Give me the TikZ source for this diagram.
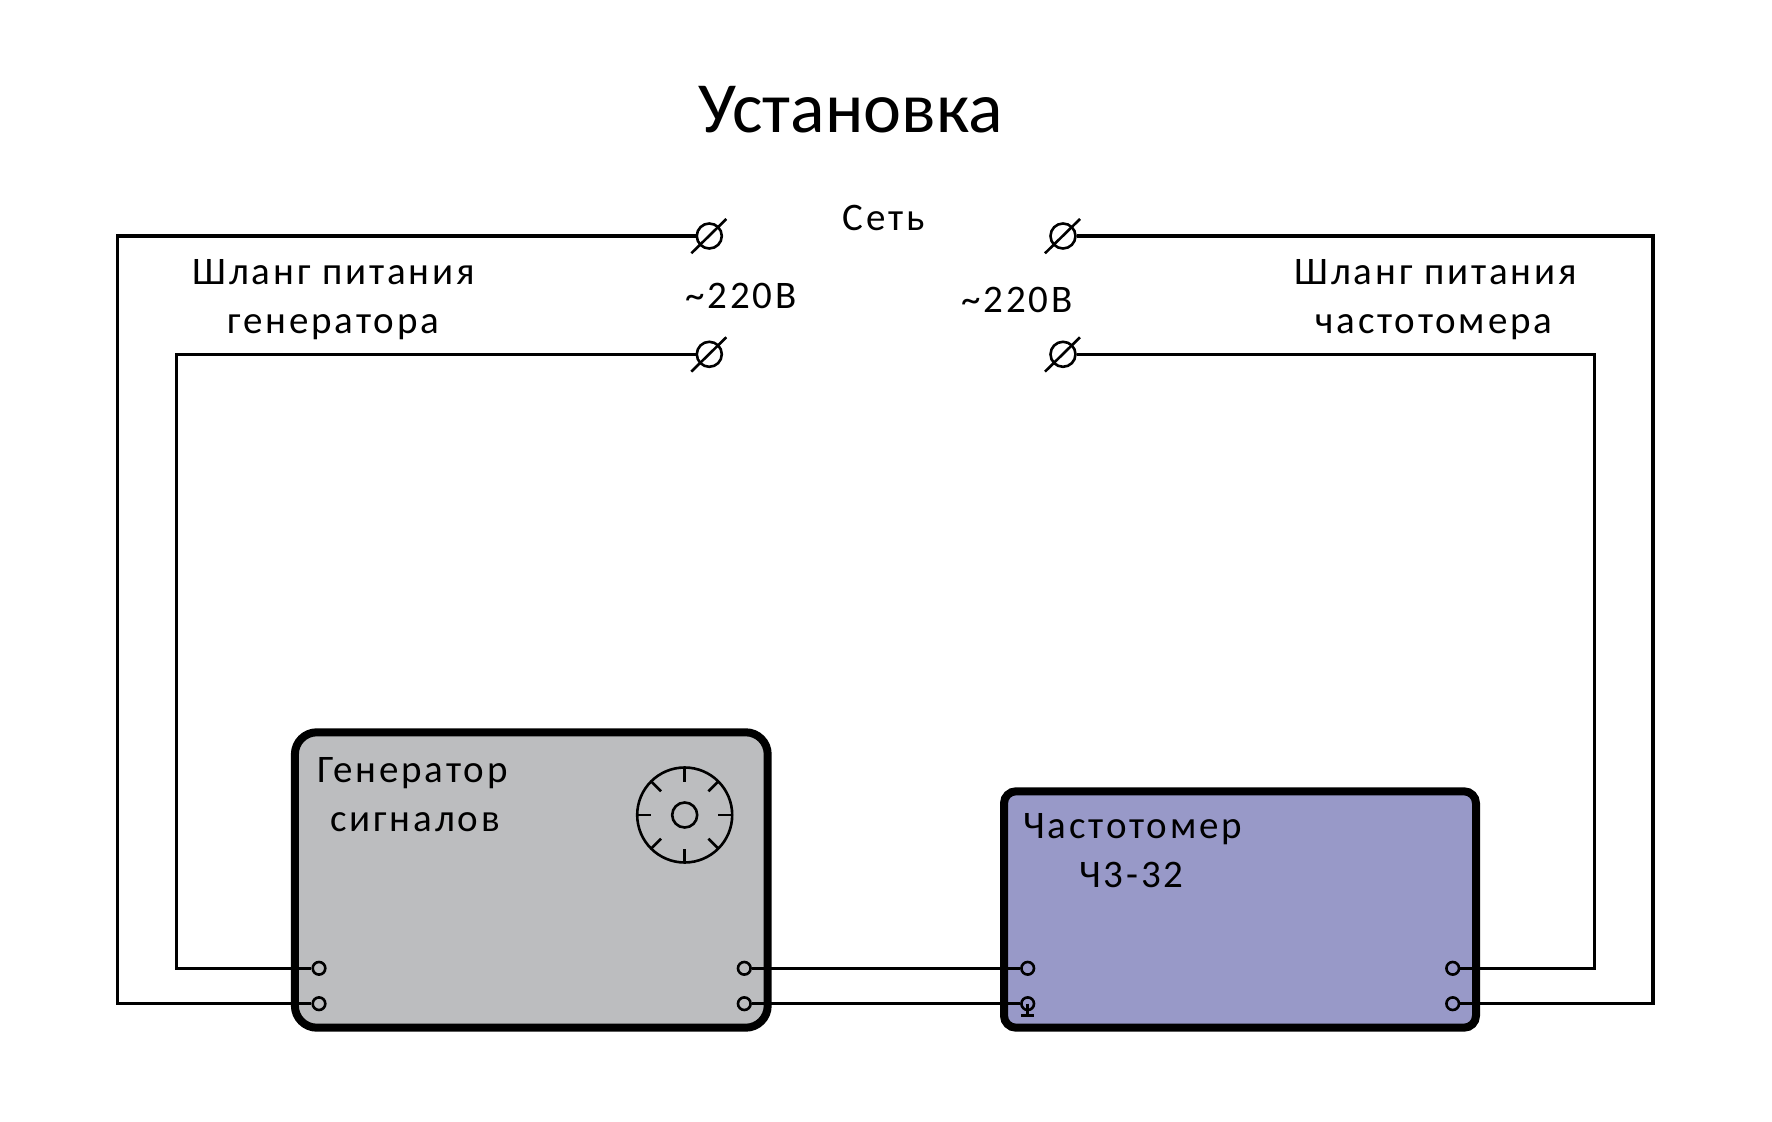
\documentclass[tikz,border=0pt]{standalone}
\usepackage{fontspec}
\setmainfont{Carlito}
\newfontfamily\labfont[LetterSpace=7.3]{Carlito}
\newfontfamily\titlefont{Carlito}
\definecolor{gencolor}{HTML}{BCBDBF}
\definecolor{freqcolor}{HTML}{9899C8}
\tikzset{
    wire/.style={line width=1.6pt},
    devbox/.style={draw, line width=4pt, rectangle},
    port/.style={circle, draw, line width=1.3pt, inner sep=0pt, minimum size=6.3pt},
    netport/.style={circle, draw, line width=1.3pt, inner sep=0pt, minimum size=12.5pt},
    lab/.style={anchor=base west, inner sep=0pt, font=\labfont\fontsize{19.5}{20}\selectfont}
}
\begin{document}
\begin{tikzpicture}[x=0.5pt, y=-0.5pt]
    \useasboundingbox (0, 0) rectangle (1772, 1122);

    \node (gen) at (531.3, 880) [devbox, rounded corners=11pt, fill=gencolor, minimum width=236.4pt, minimum height=147.7pt] {};
    \node (freq) at (1240, 909.5) [devbox, rounded corners=6pt, fill=freqcolor, minimum width=236pt, minimum height=118.2pt] {};

    % sockets
    \foreach \n/\x/\y in {netA/709.3/236, netB/709.3/354.3, netC/1063/236, netD/1063/354.3} {
        \node (\n) at (\x, \y) [netport] {};
        \draw [line width=1.3pt] (\x-18, \y+17.3) -- (\x+17, \y-17);
    }

    % device terminals
    \foreach \n/\x/\y in {genA/319/968.3, genB/319/1003.7, genC/744.3/968.3, genD/744.3/1003.7,
                          freqA/1027.7/968.3, freqB/1027.7/1003.7, freqC/1452.7/968.3, freqD/1452.7/1003.7} {
        \node (\n) at (\x, \y) [port] {};
    }

    \coordinate (outerL) at (117.5, 600);
    \coordinate (innerL) at (176.3, 600);
    \coordinate (innerR) at (1594.6, 600);
    \coordinate (outerR) at (1653, 600);

    \draw [wire] (netA) -| (outerL) |- (genB);
    \draw [wire] (netB) -| (innerL) |- (genA);
    \draw [wire] (netC) -| (outerR) |- (freqD);
    \draw [wire] (netD) -| (innerR) |- (freqC);
    \draw [wire] (genC) -- (freqA);
    \draw [wire] (genD) -- (freqB);

    % ground mark
    \draw [line width=1.3pt] (freqB.center) -- ++(0, 12) ++(-6.7, 0) -- ++(13.4, 0);

    % knob
    \node (knob) at (684.7, 815) [circle, draw, line width=1.3pt, inner sep=0pt, minimum size=47.5pt] {};
    \node (knobc) at (684.7, 815) [circle, draw, line width=1.3pt, inner sep=0pt, minimum size=12.5pt] {};
    \foreach \a in {0, 45, ..., 315} {
        \draw [line width=1.3pt] (knob.center) ++(\a:47) -- ++(\a+180:13.5);
    }

    \node (title) at (698, 133) [anchor=base west, inner sep=0pt, font=\titlefont\fontsize{36}{38}\selectfont] {Установка};
    \node (net) at (842, 230.7) [lab] {Сеть};
    \node (voltL) at (685, 309) [lab] {\symbol{126}220В};
    \node (voltR) at (961, 312.7) [lab] {\symbol{126}220В};
    \node (hoseA) at (192, 285) [lab] {Шланг питания};
    \node (hoseB) at (227, 334) [lab] {генератора};
    \node (hoseC) at (1294, 285) [lab] {Шланг питания};
    \node (hoseD) at (1315, 334) [lab] {частотомера};
    \node (genA1) at (317, 782.3) [lab] {Генератор};
    \node (genA2) at (330, 831.7) [lab] {сигналов};
    \node (freqA1) at (1023, 838.3) [lab] {Частотомер};
    \node (freqA2) at (1079, 887.3) [lab] {Ч3-32};
\end{tikzpicture}
\end{document}
